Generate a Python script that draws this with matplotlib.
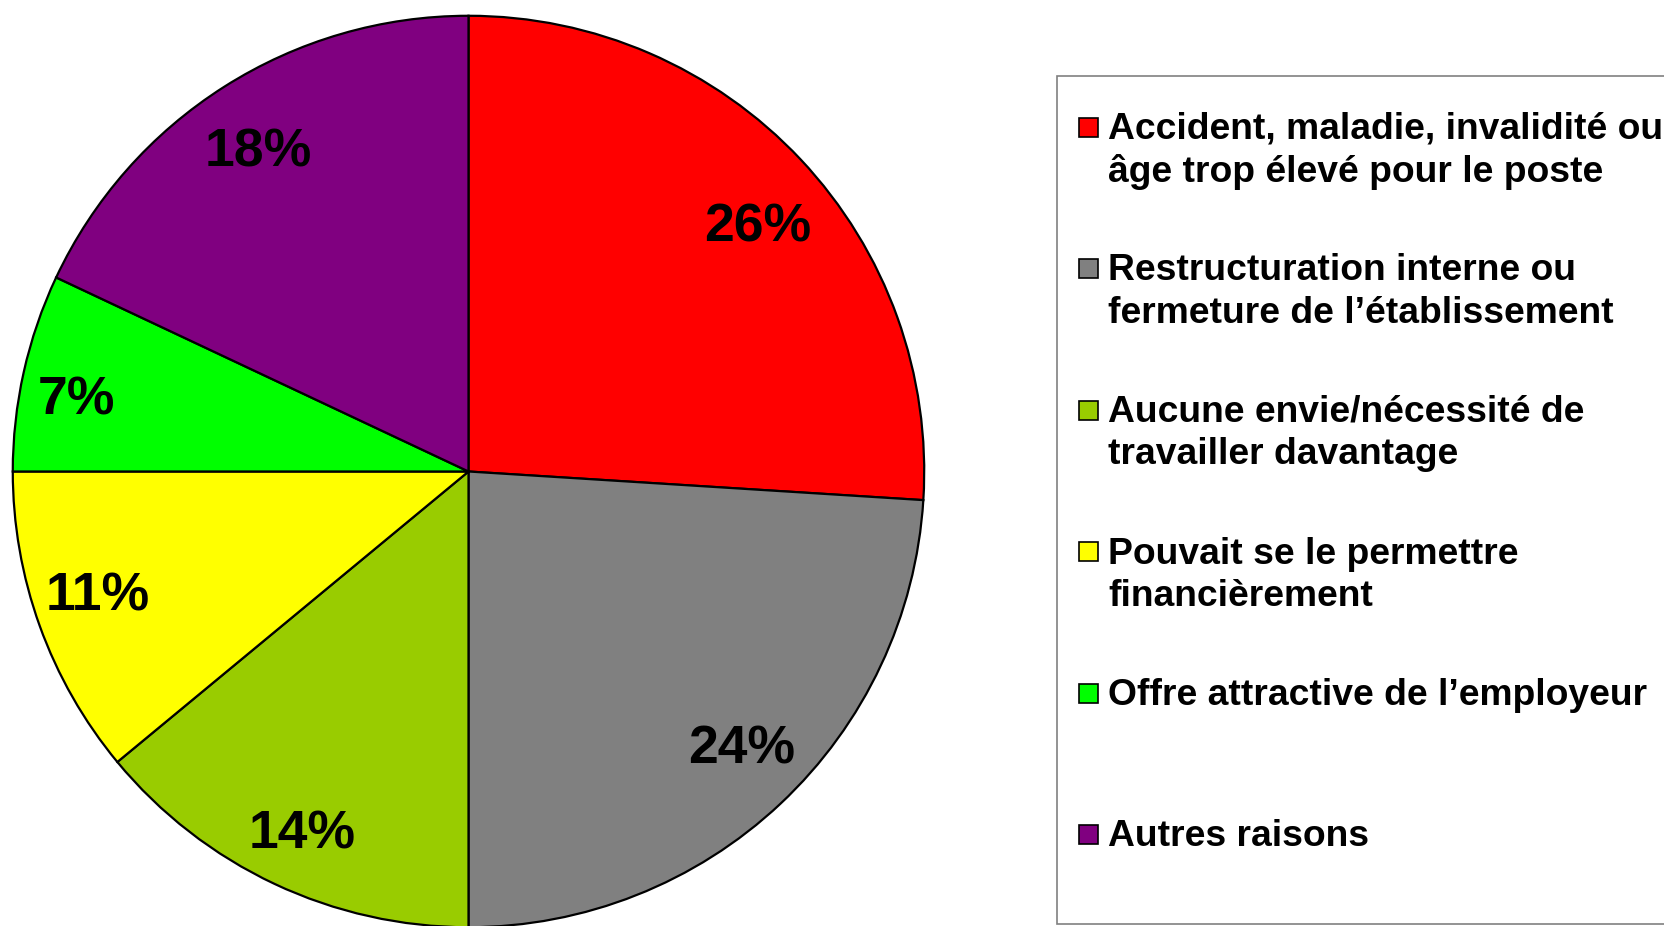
import matplotlib
matplotlib.use("Agg")
import matplotlib.pyplot as plt
from matplotlib.patches import Rectangle

labels = [
    "Accident, maladie, invalidité ou\nâge trop élevé pour le poste",
    "Restructuration interne ou\nfermeture de l\u2019établissement",
    "Aucune envie/nécessité de\ntravailler davantage",
    "Pouvait se le permettre\nfinancièrement",
    "Offre attractive de l\u2019employeur",
    "Autres raisons",
]
values = [26, 24, 14, 11, 7, 18]
colors = ["#FF0000", "#808080", "#99CC00", "#FFFF00", "#00FF00", "#800080"]

W, H = 1664, 926
fig = plt.figure(figsize=(W / 100, H / 100), dpi=100)
fig.patch.set_facecolor("white")

cx, cy, r = 468.5, 471.5, 458
ax = fig.add_axes([(cx - r) / W, (H - cy - r) / H, 2 * r / W, 2 * r / H])
wedges, texts, autotexts = ax.pie(
    values, colors=colors, startangle=90, counterclock=False,
    autopct="%d%%", pctdistance=0.85,
    wedgeprops=dict(edgecolor="black", linewidth=1.6),
    textprops=dict(fontsize=38.5, fontweight="bold", family="Liberation Sans", color="black"),
)
# label placement (in pie-radius units), matching the original layout
label_xy = [(0.634, 0.535), (0.599, -0.611), (-0.364, -0.797),
            (-0.813, -0.275), (-0.861, 0.155), (-0.462, 0.701)]
for t, (lx, ly) in zip(autotexts, label_xy):
    t.set_position((lx, ly))
ax.set_xlim(-1.005, 1.005)
ax.set_ylim(-1.005, 1.005)
ax.set_aspect("equal")
ax.axis("off")

# legend box (extends past right edge)
fig.patches.append(Rectangle((1057 / W, (H - 924) / H), (1700 - 1057) / W, (924 - 76) / H,
                             transform=fig.transFigure, facecolor="white",
                             edgecolor="#808080", linewidth=1.2, zorder=0))

first_mid = 127
step = 141.5
line_gap = 42.5
for i, (lab, col) in enumerate(zip(labels, colors)):
    mid = first_mid + i * step
    fig.patches.append(Rectangle((1078.5 / W, (H - mid - 9.5) / H), 19 / W, 19 / H,
                                 transform=fig.transFigure, facecolor=col,
                                 edgecolor="black", linewidth=1.2, zorder=2))
    for j, line in enumerate(lab.split("\n")):
        base = mid + 12 + j * line_gap
        fig.text(1108 / W, (H - base) / H, line, fontsize=26.8, fontweight="bold",
                 family="Liberation Sans", va="baseline", ha="left", color="black")

fig.savefig("out.png", dpi=100, facecolor="white")
